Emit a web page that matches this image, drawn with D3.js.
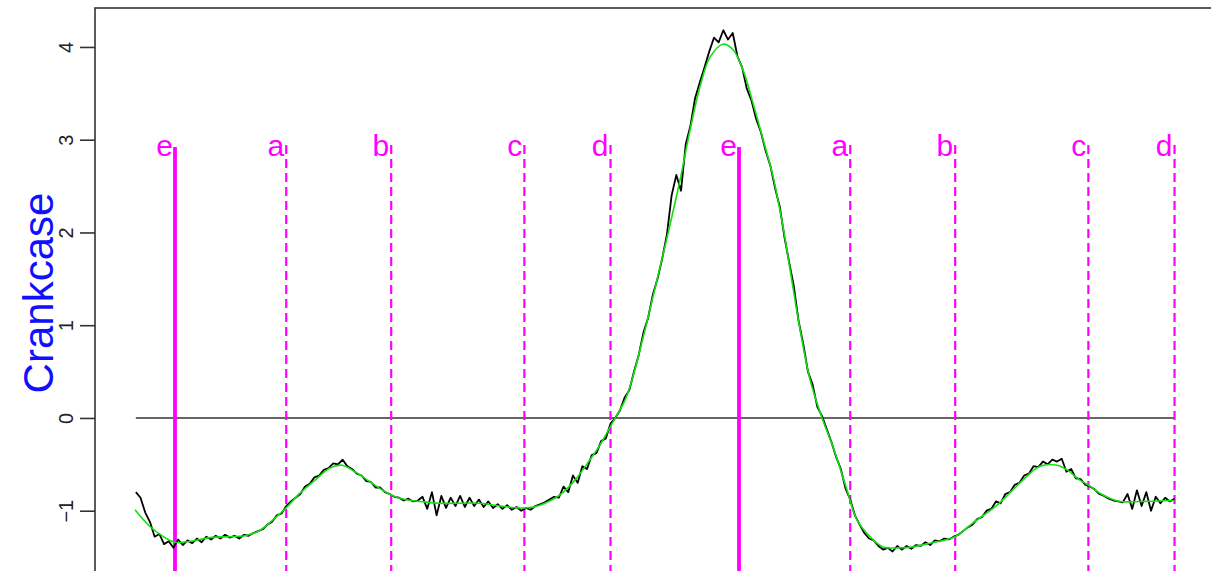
<!DOCTYPE html>
<html>
<head>
<meta charset="utf-8">
<script src="https://cdn.jsdelivr.net/npm/d3@7"></script>
<style>
html,body{margin:0;padding:0;background:#fff;overflow:hidden;}
svg{display:block;}
text{font-family:"Liberation Sans",Arial,sans-serif;}
</style>
</head>
<body>
<svg id="chart" width="1211" height="571"></svg>
<script>
// ---- data (crank angle in degrees, e of first cycle = 0) ----
const eventLabels = ["e","a","b","c","d","e","a","b","c","d"];
const eventAngles = [0, 71, 138, 223, 278, 360, 431, 498, 583, 638];
const eventSolid  = [true,false,false,false,false,true,false,false,false,false];

const yTicks = [-1, 0, 1, 2, 3, 4];

// smooth fitted curve (green)
const smoothAngles = [-25.5,-16,-6.4,0,9.6,22.3,35.1,44.7,54.3,63.8,71.5,79.8,89.4,98.9,106.6,114.9,124.5,137.9,146.8,156.4,169,194.7,207.4,223.4,233,245.7,255.3,264.9,271.3,278.3,287.2,291.7,300,306.4,314.7,322.3,328.7,335.1,341.5,349.8,356.2,362.6,369,375.4,381.8,388.1,392.6,399,405.4,413,420,429,435.3,443.6,451.9,462.8,471,482,497.9,509.4,524.7,539.3,552.1,563,569.4,577.6,582.7,592.3,603.2,616,638];
const smoothValues = [-0.99,-1.17,-1.29,-1.34,-1.33,-1.29,-1.28,-1.27,-1.21,-1.08,-0.96,-0.81,-0.67,-0.54,-0.51,-0.58,-0.69,-0.83,-0.88,-0.90,-0.92,-0.92,-0.95,-0.97,-0.94,-0.83,-0.67,-0.45,-0.29,-0.08,0.19,0.41,0.95,1.40,1.99,2.56,3.10,3.57,3.89,4.03,3.97,3.75,3.39,3.00,2.60,2.06,1.60,0.95,0.41,0.00,-0.31,-0.78,-1.10,-1.28,-1.39,-1.40,-1.39,-1.35,-1.28,-1.13,-0.94,-0.70,-0.52,-0.51,-0.56,-0.67,-0.72,-0.83,-0.90,-0.90,-0.89];

// measured signal (black), sampled every 3 degrees from -25
const rawStart = -25, rawStep = 3;
const rawValues = [
-0.80,-0.86,-1.02,-1.12,-1.28,-1.25,-1.36,-1.33,-1.40,-1.31,
-1.37,-1.32,-1.35,-1.30,-1.34,-1.28,-1.31,-1.27,-1.30,-1.26,
-1.29,-1.27,-1.30,-1.26,-1.27,-1.24,-1.22,-1.20,-1.15,-1.12,
-1.05,-1.03,-0.95,-0.90,-0.86,-0.82,-0.74,-0.71,-0.64,-0.62,
-0.56,-0.54,-0.49,-0.50,-0.45,-0.52,-0.55,-0.60,-0.62,-0.68,
-0.69,-0.75,-0.75,-0.80,-0.82,-0.85,-0.86,-0.89,-0.87,-0.90,
-0.89,-0.85,-0.98,-0.80,-1.05,-0.84,-0.97,-0.86,-0.95,-0.84,
-0.96,-0.86,-0.95,-0.88,-0.96,-0.90,-0.97,-0.93,-0.98,-0.94,
-0.99,-0.96,-1.00,-0.97,-0.99,-0.95,-0.93,-0.91,-0.88,-0.85,
-0.86,-0.74,-0.80,-0.62,-0.70,-0.52,-0.55,-0.40,-0.38,-0.25,
-0.22,-0.06,0.00,0.08,0.22,0.30,0.50,0.68,0.92,1.08,
1.33,1.50,1.72,1.98,2.40,2.62,2.45,2.95,3.15,3.45,
3.62,3.78,3.95,4.10,4.05,4.18,4.08,4.15,3.90,3.78,
3.55,3.42,3.22,3.08,2.88,2.72,2.48,2.28,1.95,1.68,
1.42,1.05,0.80,0.50,0.36,0.12,0.02,-0.12,-0.26,-0.42,
-0.55,-0.76,-0.88,-1.05,-1.15,-1.24,-1.30,-1.32,-1.38,-1.42,
-1.40,-1.44,-1.38,-1.42,-1.38,-1.41,-1.37,-1.38,-1.34,-1.37,
-1.32,-1.33,-1.30,-1.31,-1.28,-1.26,-1.22,-1.18,-1.15,-1.09,
-1.07,-1.00,-0.98,-0.90,-0.92,-0.82,-0.80,-0.72,-0.70,-0.62,
-0.60,-0.52,-0.53,-0.47,-0.50,-0.45,-0.47,-0.44,-0.58,-0.55,
-0.65,-0.66,-0.72,-0.74,-0.77,-0.82,-0.84,-0.87,-0.89,-0.90,
-0.91,-0.82,-0.98,-0.78,-0.95,-0.80,-1.00,-0.85,-0.92,-0.86,
-0.90,-0.87
];
const rawAngles = d3.range(rawValues.length).map(i => rawStart + i * rawStep);

// ---- layout ----
const svg = d3.select("#chart");
const plotLeft = 95, plotTop = 8, plotRight = 1230, plotBottom = 600;

const x = d3.scaleLinear().domain([0, 360]).range([175, 739]);
const y = d3.scaleLinear().domain([-1.65, 4.42]).range([571, 8]);

// box
svg.append("rect")
  .attr("x", plotLeft).attr("y", plotTop)
  .attr("width", plotRight - plotLeft).attr("height", plotBottom - plotTop)
  .attr("fill", "none").attr("stroke", "#333").attr("stroke-width", 1.6);

// y axis
const yAxis = d3.axisLeft(y).tickValues(yTicks).tickSize(15).tickPadding(7).tickFormat(d3.format("d"));
const gy = svg.append("g").attr("transform", `translate(${plotLeft},0)`).call(yAxis);
gy.select(".domain").remove();
gy.selectAll(".tick line").attr("stroke", "#333").attr("stroke-width", 1.6);
gy.selectAll(".tick text")
  .attr("fill", "#222")
  .style("font-size", "20px")
  .attr("x", null).attr("dy", null)
  .attr("text-anchor", "middle")
  .attr("transform", "translate(-22,0) rotate(-90)");

// y label
svg.append("text")
  .attr("transform", `translate(53,${293}) rotate(-90)`)
  .attr("text-anchor", "middle")
  .attr("fill", "#1010ff")
  .style("font-size", "42px")
  .text("Crankcase");

// zero line
svg.append("line")
  .attr("x1", x(d3.min(rawAngles))).attr("x2", x(d3.max(rawAngles)))
  .attr("y1", y(0)).attr("y2", y(0))
  .attr("stroke", "#333").attr("stroke-width", 1.6);

// event lines
const ev = svg.append("g");
eventAngles.forEach((a, i) => {
  ev.append("line")
    .attr("x1", x(a)).attr("x2", x(a))
    .attr("y1", eventSolid[i] ? 147 : 145).attr("y2", 600)
    .attr("stroke", "#ff00ff")
    .attr("stroke-width", eventSolid[i] ? 3.8 : 2.2)
    .attr("stroke-dasharray", eventSolid[i] ? null : "9,5");
  ev.append("text")
    .attr("x", x(a) - 2).attr("y", 156)
    .attr("text-anchor", "end")
    .attr("fill", "#ff00ff")
    .style("font-size", "30px")
    .text(eventLabels[i]);
});

// raw signal
const lineRaw = d3.line().x((d, i) => x(rawAngles[i])).y(d => y(d));
svg.append("path").datum(rawValues)
  .attr("d", lineRaw)
  .attr("fill", "none").attr("stroke", "#000").attr("stroke-width", 1.8)
  .attr("stroke-linejoin", "round");

// smooth curve
const lineSmooth = d3.line().x((d, i) => x(smoothAngles[i])).y(d => y(d)).curve(d3.curveCatmullRom.alpha(0.5));
svg.append("path").datum(smoothValues)
  .attr("d", lineSmooth)
  .attr("fill", "none").attr("stroke", "#11e011").attr("stroke-width", 1.6);
</script>
</body>
</html>
